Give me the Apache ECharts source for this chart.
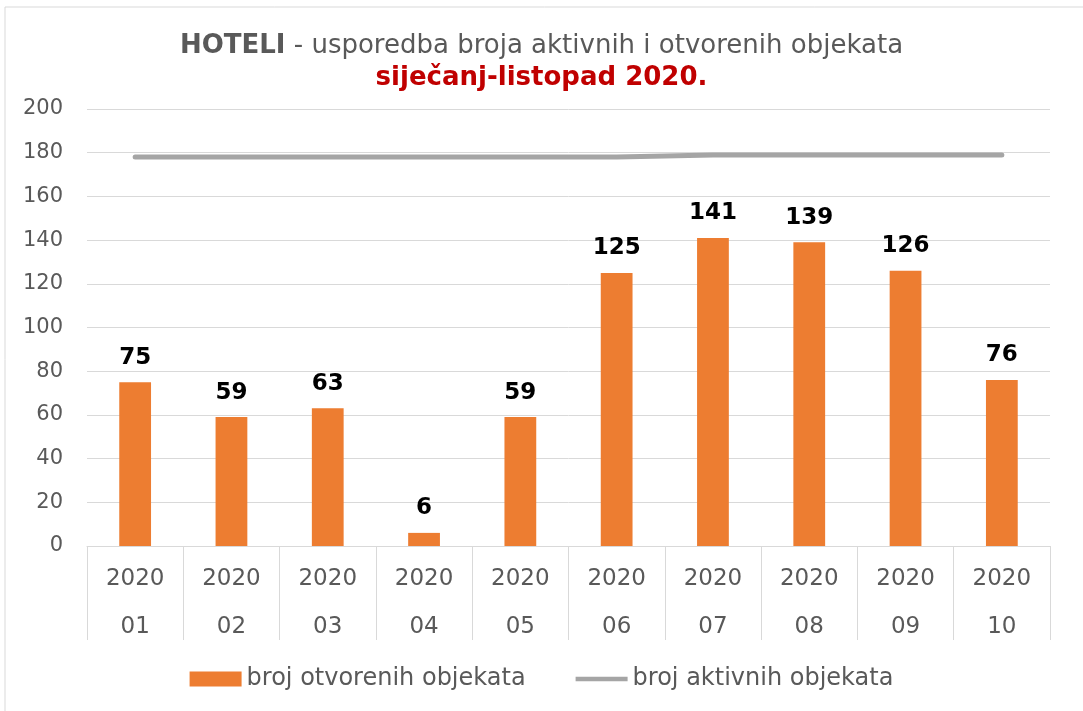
<!DOCTYPE html>
<html lang="hr">
<head>
<meta charset="UTF-8">
<title>HOTELI</title>
<style>
  html, body { margin: 0; padding: 0; background: #fff; }
  #chart { width: 1083px; height: 711px; }
</style>
</head>
<body>
<div id="chart"></div>
<script src="https://cdn.jsdelivr.net/npm/echarts@6/dist/echarts.min.js"></script>
<script>
var months = ['2020\n01', '2020\n02', '2020\n03', '2020\n04', '2020\n05',
              '2020\n06', '2020\n07', '2020\n08', '2020\n09', '2020\n10'];
var otvoreni = [75, 59, 63, 6, 59, 125, 141, 139, 126, 76];
var aktivni = [178, 178, 178, 178, 178, 178, 179, 179, 179, 179];
var yTicks = { min: 0, max: 200, interval: 20 };

var font = 'DejaVu Sans, Verdana, sans-serif';
var chart = echarts.init(document.getElementById('chart'));

chart.setOption({
    textStyle: { fontFamily: font },
    animation: false,
    graphic: [{
        type: 'rect',
        shape: { x: 5, y: 7, width: 1100, height: 800 },
        style: { fill: 'none', stroke: '#d9d9d9', lineWidth: 1 },
        silent: true
    }],
    title: {
        left: 'center',
        top: 25,
        text: '{b|HOTELI} - usporedba broja aktivnih i otvorenih objekata\n{r|siječanj-listopad 2020.}',
        textStyle: {
            fontFamily: font,
            fontSize: 26,
            fontWeight: 'normal',
            color: '#595959',
            lineHeight: 32,
            rich: {
                b: { fontFamily: font, fontSize: 26, fontWeight: 'bold', color: '#595959', lineHeight: 32 },
                r: { fontFamily: font, fontSize: 26, fontWeight: 'bold', color: '#c00000', lineHeight: 32 }
            }
        }
    },
    legend: {
        bottom: 15,
        left: 'center',
        itemGap: 50,
        itemWidth: 52,
        itemHeight: 15,
        textStyle: { fontFamily: font, fontSize: 24, color: '#595959' },
        data: [
            { name: 'broj otvorenih objekata', icon: 'rect' },
            { name: 'broj aktivnih objekata', icon: 'path://M0,0 H60 V5 H0 Z' }
        ]
    },
    grid: { left: 87, right: 33, top: 109, bottom: 165 },
    xAxis: {
        type: 'category',
        data: months,
        axisLine: { lineStyle: { color: '#d9d9d9', width: 1 } },
        axisTick: { show: true, length: 94, lineStyle: { color: '#d9d9d9' } },
        axisLabel: {
            fontFamily: font,
            fontSize: 23,
            color: '#595959',
            lineHeight: 48,
            margin: 9
        }
    },
    yAxis: {
        type: 'value',
        min: yTicks.min,
        max: yTicks.max,
        interval: yTicks.interval,
        axisLine: { show: false },
        axisTick: { show: false },
        splitLine: { lineStyle: { color: '#d9d9d9', width: 1 } },
        axisLabel: { fontFamily: font, fontSize: 21, color: '#595959', margin: 24 }
    },
    series: [{
        name: 'broj otvorenih objekata',
        type: 'bar',
        data: otvoreni,
        barWidth: '33%',
        itemStyle: { color: '#ed7d31' },
        label: {
            show: true,
            position: 'top',
            distance: 13,
            fontFamily: font,
            fontSize: 23,
            fontWeight: 'bold',
            color: '#000'
        }
    }, {
        name: 'broj aktivnih objekata',
        type: 'line',
        data: aktivni,
        symbol: 'none',
        lineStyle: { color: '#a5a5a5', width: 5, cap: 'round' },
        itemStyle: { color: '#a5a5a5' }
    }]
});
</script>
</body>
</html>
